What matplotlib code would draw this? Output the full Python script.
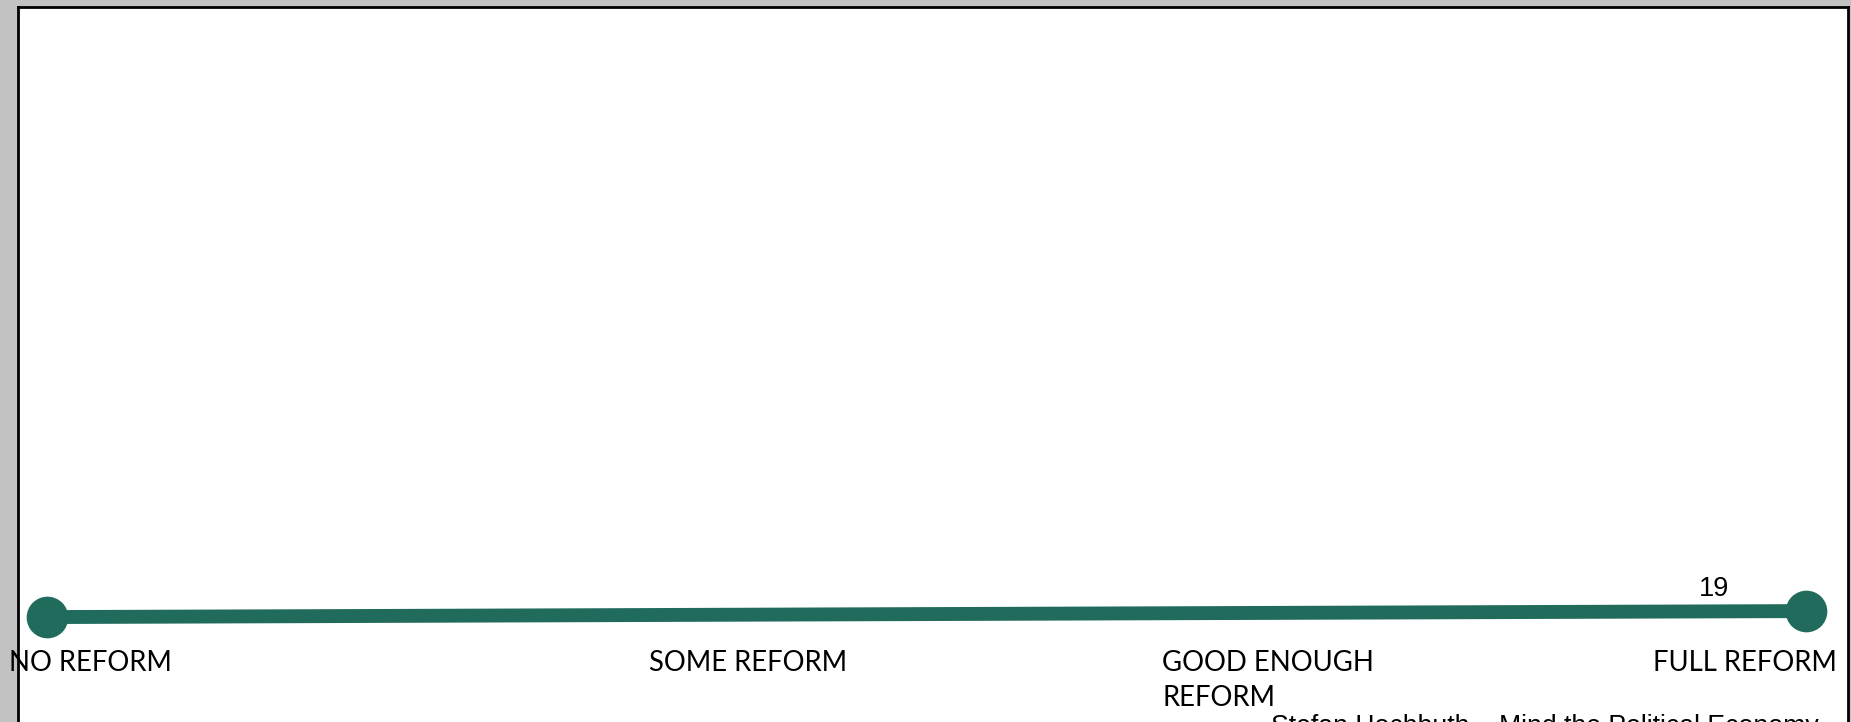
import matplotlib
matplotlib.use("Agg")
import matplotlib.pyplot as plt
import matplotlib.transforms as mtransforms

# data
stages = ["NO REFORM", "SOME REFORM", "GOOD ENOUGH\nREFORM", "FULL REFORM"]
point_pos = [0, 1]          # start / end of the reform line
point_vals = [18.6, 19]
end_label = "19"
footer = "Stefan Hochbuth \u2013 Mind the Political Economy"

green = "#206b5b"

fig = plt.figure(figsize=(18.51, 7.22), dpi=100)
fig.patch.set_facecolor("#c2c2c2")

# white slide area
W, H = 1851, 722
ax = fig.add_axes([18 / W, 0, (1848 - 18) / W, (722 - 7) / H])
ax.set_facecolor("white")
for s in ["top", "left", "right"]:
    ax.spines[s].set_linewidth(2)
    ax.spines[s].set_color("black")
ax.spines["bottom"].set_visible(False)
ax.set_xticks([])
ax.set_yticks([])

ax.plot(point_pos, point_vals, color=green, lw=10, solid_capstyle="butt", zorder=2)
ax.scatter(point_pos, point_vals, s=900, color=green, zorder=3, linewidths=0)
ax.set_xlim(-0.0165, 1.0239)
ax.set_ylim(11.6, 59.3)

ax.text(point_pos[-1] - 0.052, point_vals[-1] + 1.45, end_label,
        family="Liberation Sans", fontsize=19.5, ha="center", va="center")

# stage labels along the bottom
trans = mtransforms.blended_transform_factory(ax.transData, ax.transAxes)
label_x = [-0.0216, 0.342, 0.634, 1.0176]
label_ha = ["left", "left", "left", "right"]
for lx, txt, ha in zip(label_x, stages, label_ha):
    ax.text(lx, 0.101, txt, transform=trans, family="Lato", fontsize=19.8,
            ha=ha, va="top", linespacing=1.45, clip_on=False)

# footer, cut by the bottom of the window like in the screenshot
fig.text(1271 / W, -12 / H, footer, family="Liberation Sans", fontsize=19.2,
         ha="left", va="baseline")

fig.savefig("out.png", dpi=100, facecolor=fig.get_facecolor())
